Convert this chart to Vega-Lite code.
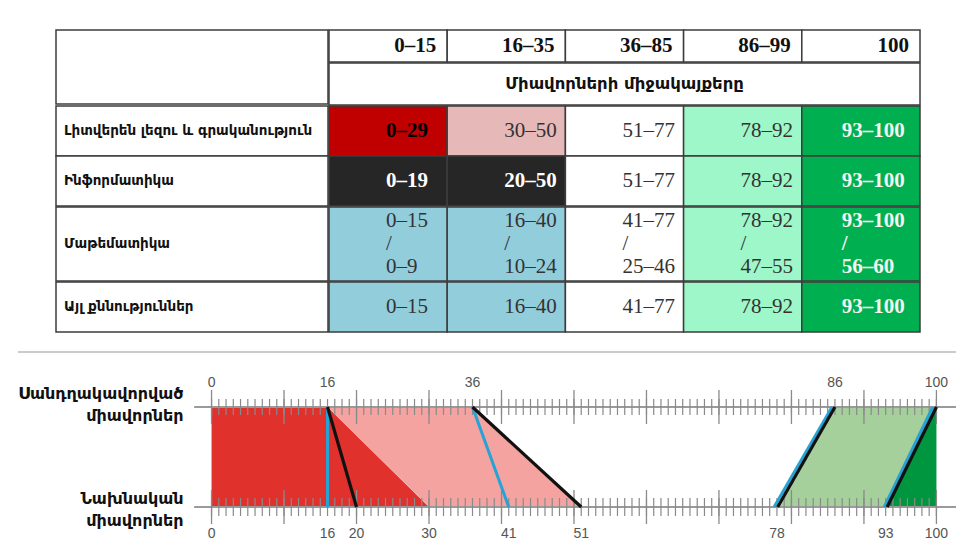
{
  "$schema": "https://vega.github.io/schema/vega-lite/v6.json",
  "padding": {"top": 29, "left": 17, "right": 0, "bottom": 0},
  "background": "white",
  "config": {"view": {"stroke": null}},
  "datasets": {
    "margin": [{"cell": "margin"}],
    "corner": [{"cell": "corner"}],
    "cols": [
      {"col": "c1", "range": "0–15"},
      {"col": "c2", "range": "16–35"},
      {"col": "c3", "range": "36–85"},
      {"col": "c4", "range": "86–99"},
      {"col": "c5", "range": "100"}
    ],
    "heading": [{"heading": "Միավորների միջակայքերը"}],
    "subjects": [
      {"row": "lit", "subject": "Լիտվերեն լեզու և գրականություն"},
      {"row": "inf", "subject": "Ինֆորմատիկա"},
      {"row": "math", "subject": "Մաթեմատիկա"},
      {"row": "oth", "subject": "Այլ քննություններ"}
    ],
    "cells": [
      {"row": "lit", "col": "c1", "zone": "red", "text": "0–29"},
      {"row": "lit", "col": "c2", "zone": "pink", "text": "30–50"},
      {"row": "lit", "col": "c3", "zone": "white", "text": "51–77"},
      {"row": "lit", "col": "c4", "zone": "mint", "text": "78–92"},
      {"row": "lit", "col": "c5", "zone": "green", "text": "93–100"},
      {"row": "inf", "col": "c1", "zone": "black", "text": "0–19"},
      {"row": "inf", "col": "c2", "zone": "black", "text": "20–50"},
      {"row": "inf", "col": "c3", "zone": "white", "text": "51–77"},
      {"row": "inf", "col": "c4", "zone": "mint", "text": "78–92"},
      {"row": "inf", "col": "c5", "zone": "green", "text": "93–100"},
      {"row": "math", "col": "c1", "zone": "blue", "text": ["0–15", "/", "0–9"]},
      {"row": "math", "col": "c2", "zone": "blue", "text": ["16–40", "/", "10–24"]},
      {"row": "math", "col": "c3", "zone": "white", "text": ["41–77", "/", "25–46"]},
      {"row": "math", "col": "c4", "zone": "mint", "text": ["78–92", "/", "47–55"]},
      {"row": "math", "col": "c5", "zone": "green", "text": ["93–100", "/", "56–60"]},
      {"row": "oth", "col": "c1", "zone": "blue", "text": "0–15"},
      {"row": "oth", "col": "c2", "zone": "blue", "text": "16–40"},
      {"row": "oth", "col": "c3", "zone": "white", "text": "41–77"},
      {"row": "oth", "col": "c4", "zone": "mint", "text": "78–92"},
      {"row": "oth", "col": "c5", "zone": "green", "text": "93–100"}
    ],
    "separator": [{"sep": "line"}],
    "axisLines": [{"level": 1}, {"level": 0}],
    "zones": [
      {"region": "dark red", "level": 1, "from": 0, "to": 16},
      {"region": "dark red", "level": 0, "from": 0, "to": 30},
      {"region": "light red", "level": 1, "from": 16, "to": 36},
      {"region": "light red", "level": 0, "from": 30, "to": 51},
      {"region": "light green", "level": 1, "from": 86, "to": 100},
      {"region": "light green", "level": 0, "from": 78, "to": 93},
      {"region": "dark green", "level": 1, "from": 100, "to": 100},
      {"region": "dark green", "level": 0, "from": 93, "to": 100}
    ],
    "segments": [
      {"seg": "b16", "kind": "blue", "level": 1, "x": 16},
      {"seg": "b16", "kind": "blue", "level": 0, "x": 16},
      {"seg": "b36", "kind": "blue", "level": 1, "x": 36},
      {"seg": "b36", "kind": "blue", "level": 0, "x": 41},
      {"seg": "b86", "kind": "blue", "level": 1, "x": 85.6},
      {"seg": "b86", "kind": "blue", "level": 0, "x": 77.6},
      {"seg": "b100", "kind": "blue", "level": 1, "x": 99.5},
      {"seg": "b100", "kind": "blue", "level": 0, "x": 92.8},
      {"seg": "k16", "kind": "black", "level": 1, "x": 16},
      {"seg": "k16", "kind": "black", "level": 0, "x": 20},
      {"seg": "k36", "kind": "black", "level": 1, "x": 36},
      {"seg": "k36", "kind": "black", "level": 0, "x": 51},
      {"seg": "k86", "kind": "black", "level": 1, "x": 86},
      {"seg": "k86", "kind": "black", "level": 0, "x": 78.1},
      {"seg": "k100", "kind": "black", "level": 1, "x": 100},
      {"seg": "k100", "kind": "black", "level": 0, "x": 93.2}
    ],
    "scaleTicks": [
      {"v": 0}, {"v": 1}, {"v": 2}, {"v": 3}, {"v": 4}, {"v": 5}, {"v": 6}, {"v": 7}, {"v": 8}, {"v": 9},
      {"v": 10}, {"v": 11}, {"v": 12}, {"v": 13}, {"v": 14}, {"v": 15}, {"v": 16}, {"v": 17}, {"v": 18}, {"v": 19},
      {"v": 20}, {"v": 21}, {"v": 22}, {"v": 23}, {"v": 24}, {"v": 25}, {"v": 26}, {"v": 27}, {"v": 28}, {"v": 29},
      {"v": 30}, {"v": 31}, {"v": 32}, {"v": 33}, {"v": 34}, {"v": 35}, {"v": 36}, {"v": 37}, {"v": 38}, {"v": 39},
      {"v": 40}, {"v": 41}, {"v": 42}, {"v": 43}, {"v": 44}, {"v": 45}, {"v": 46}, {"v": 47}, {"v": 48}, {"v": 49},
      {"v": 50}, {"v": 51}, {"v": 52}, {"v": 53}, {"v": 54}, {"v": 55}, {"v": 56}, {"v": 57}, {"v": 58}, {"v": 59},
      {"v": 60}, {"v": 61}, {"v": 62}, {"v": 63}, {"v": 64}, {"v": 65}, {"v": 66}, {"v": 67}, {"v": 68}, {"v": 69},
      {"v": 70}, {"v": 71}, {"v": 72}, {"v": 73}, {"v": 74}, {"v": 75}, {"v": 76}, {"v": 77}, {"v": 78}, {"v": 79},
      {"v": 80}, {"v": 81}, {"v": 82}, {"v": 83}, {"v": 84}, {"v": 85}, {"v": 86}, {"v": 87}, {"v": 88}, {"v": 89},
      {"v": 90}, {"v": 91}, {"v": 92}, {"v": 93}, {"v": 94}, {"v": 95}, {"v": 96}, {"v": 97}, {"v": 98}, {"v": 99},
      {"v": 100}
    ],
    "majorTicks": [
      {"v": 0}, {"v": 10}, {"v": 20}, {"v": 30}, {"v": 40}, {"v": 50}, {"v": 60}, {"v": 70}, {"v": 80}, {"v": 90}, {"v": 100}
    ],
    "scaledLabels": [{"v": 0}, {"v": 16}, {"v": 36}, {"v": 86}, {"v": 100}],
    "rawLabels": [{"v": 0}, {"v": 16}, {"v": 20}, {"v": 30}, {"v": 41}, {"v": 51}, {"v": 78}, {"v": 93}, {"v": 100}]
  },
  "spacing": 18,
  "vconcat": [
    {
      "spacing": 0,
      "hconcat": [
        {
          "width": 37, "height": 300,
          "data": {"name": "margin"},
          "mark": {"type": "rect", "fill": "white", "strokeWidth": 0},
          "encoding": {}
        },
        {
          "spacing": -1.5,
          "vconcat": [
            {
              "spacing": -1.5,
              "hconcat": [
                {
                  "width": 272, "height": 74,
                  "data": {"name": "corner"},
                  "mark": {"type": "rect", "fill": "white", "stroke": "#3c3c3c", "strokeWidth": 1.5},
                  "encoding": {}
                },
                {
                  "spacing": -1.5,
                  "vconcat": [
                    {
                      "width": 591, "height": 32,
                      "data": {"name": "cols"},
                      "layer": [
                        {
                          "mark": {"type": "rect", "fill": "white", "stroke": "#3c3c3c", "strokeWidth": 1.5},
                          "encoding": {
                            "x": {"field": "col", "type": "nominal", "sort": ["c1", "c2", "c3", "c4", "c5"], "axis": null, "scale": {"paddingInner": 0, "paddingOuter": 0}}
                          }
                        },
                        {
                          "mark": {"type": "text", "align": "right", "dx": -11, "font": "Liberation Serif", "fontWeight": "bold", "fontSize": 21, "color": "#111"},
                          "encoding": {
                            "x": {"field": "col", "type": "nominal", "sort": ["c1", "c2", "c3", "c4", "c5"], "axis": null, "bandPosition": 1},
                            "text": {"field": "range", "type": "nominal"}
                          }
                        }
                      ]
                    },
                    {
                      "width": 591, "height": 42,
                      "data": {"name": "heading"},
                      "layer": [
                        {"mark": {"type": "rect", "fill": "white", "stroke": "#3c3c3c", "strokeWidth": 1.5}, "encoding": {}},
                        {
                          "mark": {"type": "text", "font": "DejaVu Sans", "fontWeight": "bold", "fontSize": 16.5, "color": "#111"},
                          "encoding": {"text": {"field": "heading", "type": "nominal"}}
                        }
                      ]
                    }
                  ]
                }
              ]
            },
            {
              "spacing": -1.5,
              "hconcat": [
                {
                  "width": 272, "height": 100,
                  "data": {"name": "subjects"},
                  "transform": [{"filter": "datum.row == 'lit' || datum.row == 'inf'"}],
                  "encoding": {"y": {"field": "row", "type": "nominal", "sort": ["lit", "inf", "math", "oth"], "axis": null, "scale": {"paddingInner": 0, "paddingOuter": 0}}},
                  "layer": [
                    {"mark": {"type": "rect", "fill": "white", "stroke": "#3c3c3c", "strokeWidth": 1.5}},
                    {"mark": {"type": "text", "align": "left", "dx": -128, "font": "DejaVu Sans", "fontWeight": "bold", "fontSize": 13.5, "color": "#111"}, "encoding": {"text": {"field": "subject", "type": "nominal"}}}
                  ]
                },
                {
                  "width": 591, "height": 100,
                  "data": {"name": "cells"},
                  "transform": [{"filter": "datum.row == 'lit' || datum.row == 'inf'"}],
                  "encoding": {
                    "x": {"field": "col", "type": "nominal", "sort": ["c1", "c2", "c3", "c4", "c5"], "axis": null, "scale": {"paddingInner": 0, "paddingOuter": 0}},
                    "y": {"field": "row", "type": "nominal", "sort": ["lit", "inf", "math", "oth"], "axis": null, "scale": {"paddingInner": 0, "paddingOuter": 0}}
                  },
                  "layer": [
                    {"mark": {"type": "rect", "stroke": "#3c3c3c", "strokeWidth": 1.5}, "encoding": {"fill": {"field": "zone", "type": "nominal", "legend": null, "scale": {"domain": ["red", "pink", "black", "blue", "white", "mint", "green"], "range": ["#c00000", "#e6b8b7", "#262626", "#92cddc", "#ffffff", "#9ef7c9", "#00b050"]}}}},
                    {"transform": [{"filter": "datum.zone == 'pink' || datum.zone == 'white' || datum.zone == 'mint' || datum.zone == 'blue'"}], "mark": {"type": "text", "align": "left", "dx": 57, "font": "Liberation Serif", "fontSize": 21, "lineHeight": 23, "color": "#333"}, "encoding": {"x": {"field": "col", "type": "nominal", "sort": ["c1", "c2", "c3", "c4", "c5"], "axis": null, "bandPosition": 0}, "text": {"field": "text", "type": "nominal"}}},
                    {"transform": [{"filter": "datum.zone == 'red'"}], "mark": {"type": "text", "align": "left", "dx": 57, "font": "Liberation Serif", "fontWeight": "bold", "fontSize": 21, "lineHeight": 23, "color": "#000"}, "encoding": {"x": {"field": "col", "type": "nominal", "sort": ["c1", "c2", "c3", "c4", "c5"], "axis": null, "bandPosition": 0}, "text": {"field": "text", "type": "nominal"}}},
                    {"transform": [{"filter": "datum.zone == 'black'"}], "mark": {"type": "text", "align": "left", "dx": 57, "font": "Liberation Serif", "fontWeight": "bold", "fontSize": 21, "lineHeight": 23, "color": "#ffffff"}, "encoding": {"x": {"field": "col", "type": "nominal", "sort": ["c1", "c2", "c3", "c4", "c5"], "axis": null, "bandPosition": 0}, "text": {"field": "text", "type": "nominal"}}},
                    {"transform": [{"filter": "datum.zone == 'green'"}], "mark": {"type": "text", "align": "left", "dx": 40, "font": "Liberation Serif", "fontWeight": "bold", "fontSize": 21, "lineHeight": 23, "color": "#f4f4f4"}, "encoding": {"x": {"field": "col", "type": "nominal", "sort": ["c1", "c2", "c3", "c4", "c5"], "axis": null, "bandPosition": 0}, "text": {"field": "text", "type": "nominal"}}}
                  ]
                }
              ]
            },
            {
              "spacing": -1.5,
              "hconcat": [
                {
                  "width": 272, "height": 74,
                  "data": {"name": "subjects"},
                  "transform": [{"filter": "datum.row == 'math'"}],
                  "encoding": {"y": {"field": "row", "type": "nominal", "axis": null, "scale": {"paddingInner": 0, "paddingOuter": 0}}},
                  "layer": [
                    {"mark": {"type": "rect", "fill": "white", "stroke": "#3c3c3c", "strokeWidth": 1.5}},
                    {"mark": {"type": "text", "align": "left", "dx": -128, "font": "DejaVu Sans", "fontWeight": "bold", "fontSize": 13.5, "color": "#111"}, "encoding": {"text": {"field": "subject", "type": "nominal"}}}
                  ]
                },
                {
                  "width": 591, "height": 74,
                  "data": {"name": "cells"},
                  "transform": [{"filter": "datum.row == 'math'"}],
                  "encoding": {
                    "x": {"field": "col", "type": "nominal", "sort": ["c1", "c2", "c3", "c4", "c5"], "axis": null, "scale": {"paddingInner": 0, "paddingOuter": 0}},
                    "y": {"field": "row", "type": "nominal", "axis": null, "scale": {"paddingInner": 0, "paddingOuter": 0}}
                  },
                  "layer": [
                    {"mark": {"type": "rect", "stroke": "#3c3c3c", "strokeWidth": 1.5}, "encoding": {"fill": {"field": "zone", "type": "nominal", "legend": null, "scale": {"domain": ["red", "pink", "black", "blue", "white", "mint", "green"], "range": ["#c00000", "#e6b8b7", "#262626", "#92cddc", "#ffffff", "#9ef7c9", "#00b050"]}}}},
                    {"transform": [{"filter": "datum.zone == 'pink' || datum.zone == 'white' || datum.zone == 'mint' || datum.zone == 'blue'"}], "mark": {"type": "text", "align": "left", "dx": 57, "dy": -23, "font": "Liberation Serif", "fontSize": 21, "lineHeight": 23, "color": "#333"}, "encoding": {"x": {"field": "col", "type": "nominal", "sort": ["c1", "c2", "c3", "c4", "c5"], "axis": null, "bandPosition": 0}, "text": {"field": "text", "type": "nominal"}}},
                    {"transform": [{"filter": "datum.zone == 'green'"}], "mark": {"type": "text", "align": "left", "dx": 40, "dy": -23, "font": "Liberation Serif", "fontWeight": "bold", "fontSize": 21, "lineHeight": 23, "color": "#f4f4f4"}, "encoding": {"x": {"field": "col", "type": "nominal", "sort": ["c1", "c2", "c3", "c4", "c5"], "axis": null, "bandPosition": 0}, "text": {"field": "text", "type": "nominal"}}}
                  ]
                }
              ]
            },
            {
              "spacing": -1.5,
              "hconcat": [
                {
                  "width": 272, "height": 50,
                  "data": {"name": "subjects"},
                  "transform": [{"filter": "datum.row == 'oth'"}],
                  "encoding": {"y": {"field": "row", "type": "nominal", "axis": null, "scale": {"paddingInner": 0, "paddingOuter": 0}}},
                  "layer": [
                    {"mark": {"type": "rect", "fill": "white", "stroke": "#3c3c3c", "strokeWidth": 1.5}},
                    {"mark": {"type": "text", "align": "left", "dx": -128, "font": "DejaVu Sans", "fontWeight": "bold", "fontSize": 13.5, "color": "#111"}, "encoding": {"text": {"field": "subject", "type": "nominal"}}}
                  ]
                },
                {
                  "width": 591, "height": 50,
                  "data": {"name": "cells"},
                  "transform": [{"filter": "datum.row == 'oth'"}],
                  "encoding": {
                    "x": {"field": "col", "type": "nominal", "sort": ["c1", "c2", "c3", "c4", "c5"], "axis": null, "scale": {"paddingInner": 0, "paddingOuter": 0}},
                    "y": {"field": "row", "type": "nominal", "axis": null, "scale": {"paddingInner": 0, "paddingOuter": 0}}
                  },
                  "layer": [
                    {"mark": {"type": "rect", "stroke": "#3c3c3c", "strokeWidth": 1.5}, "encoding": {"fill": {"field": "zone", "type": "nominal", "legend": null, "scale": {"domain": ["red", "pink", "black", "blue", "white", "mint", "green"], "range": ["#c00000", "#e6b8b7", "#262626", "#92cddc", "#ffffff", "#9ef7c9", "#00b050"]}}}},
                    {"transform": [{"filter": "datum.zone == 'pink' || datum.zone == 'white' || datum.zone == 'mint' || datum.zone == 'blue'"}], "mark": {"type": "text", "align": "left", "dx": 57, "font": "Liberation Serif", "fontSize": 21, "lineHeight": 23, "color": "#333"}, "encoding": {"x": {"field": "col", "type": "nominal", "sort": ["c1", "c2", "c3", "c4", "c5"], "axis": null, "bandPosition": 0}, "text": {"field": "text", "type": "nominal"}}},
                    {"transform": [{"filter": "datum.zone == 'green'"}], "mark": {"type": "text", "align": "left", "dx": 40, "font": "Liberation Serif", "fontWeight": "bold", "fontSize": 21, "lineHeight": 23, "color": "#f4f4f4"}, "encoding": {"x": {"field": "col", "type": "nominal", "sort": ["c1", "c2", "c3", "c4", "c5"], "axis": null, "bandPosition": 0}, "text": {"field": "text", "type": "nominal"}}}
                  ]
                }
              ]
            }
          ]
        }
      ]
    },
    {
      "width": 938,
      "height": 195,
      "layer": [
        {
          "data": {"name": "separator"},
          "mark": {"type": "rule", "color": "#b8b8b8", "strokeWidth": 1.5},
          "encoding": {
            "y": {"datum": 1.55, "type": "quantitative", "scale": {"domain": [-0.4, 1.55], "nice": false, "zero": false}}
          }
        },
        {
          "data": {"name": "zones"},
          "mark": {"type": "area", "orient": "horizontal", "interpolate": "linear", "opacity": 1},
          "encoding": {
            "y": {"field": "level", "type": "quantitative"},
            "x": {"field": "from", "type": "quantitative", "stack": null, "axis": null, "scale": {"domain": [-26.7, 102.7], "nice": false, "zero": false}},
            "x2": {"field": "to"},
            "color": {"field": "region", "type": "nominal", "legend": null, "scale": {"domain": ["dark red", "light red", "light green", "dark green"], "range": ["#e1312d", "#f5a3a1", "#a5d09c", "#00953f"]}}
          }
        },
        {
          "data": {"name": "axisLines"},
          "mark": {"type": "rule", "color": "#9a9a9a", "strokeWidth": 2},
          "encoding": {
            "x": {"datum": -2.4, "type": "quantitative", "axis": null},
            "x2": {"datum": 102.7},
            "y": {"field": "level", "type": "quantitative", "axis": {"title": null, "values": [0, 1], "offset": -176, "labelExpr": "datum.value == 1 ? ['Սանդղակավորված', 'միավորներ'] : ['Նախնական', 'միավորներ']", "labelFont": "DejaVu Sans", "labelFontWeight": "bold", "labelFontSize": 16, "labelColor": "#111", "labelLineHeight": 22, "labelPadding": 11, "labelBaseline": "middle", "labelAlign": "right", "labelOffset": {"condition": {"test": "datum.value == 1", "value": -14}, "value": -9}, "ticks": false, "domain": false, "grid": false, "labelOverlap": false}}
          }
        },
        {
          "data": {"name": "scaleTicks"},
          "mark": {"type": "tick", "orient": "vertical", "size": 16, "thickness": 1.2, "color": "#8a8a8a", "opacity": 1},
          "encoding": {"x": {"field": "v", "type": "quantitative", "axis": null}, "y": {"datum": 1}}
        },
        {
          "data": {"name": "scaleTicks"},
          "mark": {"type": "tick", "orient": "vertical", "size": 18, "thickness": 1.2, "color": "#8a8a8a", "opacity": 1},
          "encoding": {"x": {"field": "v", "type": "quantitative", "axis": null}, "y": {"datum": 0}}
        },
        {
          "data": {"name": "majorTicks"},
          "mark": {"type": "tick", "orient": "vertical", "size": 34, "thickness": 1.3, "color": "#8a8a8a", "opacity": 1},
          "encoding": {"x": {"field": "v", "type": "quantitative", "axis": null}, "y": {"datum": 1}}
        },
        {
          "data": {"name": "majorTicks"},
          "mark": {"type": "tick", "orient": "vertical", "size": 34, "thickness": 1.3, "color": "#8a8a8a", "opacity": 1},
          "encoding": {"x": {"field": "v", "type": "quantitative", "axis": null}, "y": {"datum": 0}}
        },
        {
          "data": {"name": "segments"},
          "transform": [{"filter": "datum.kind == 'blue'"}],
          "mark": {"type": "line", "color": "#26a3d4", "strokeWidth": 3},
          "encoding": {"x": {"field": "x", "type": "quantitative", "axis": null}, "y": {"field": "level", "type": "quantitative"}, "detail": {"field": "seg", "type": "nominal"}}
        },
        {
          "data": {"name": "segments"},
          "transform": [{"filter": "datum.kind == 'black'"}],
          "mark": {"type": "line", "color": "#111111", "strokeWidth": 3.2},
          "encoding": {"x": {"field": "x", "type": "quantitative", "axis": null}, "y": {"field": "level", "type": "quantitative"}, "detail": {"field": "seg", "type": "nominal"}}
        },
        {
          "data": {"name": "scaledLabels"},
          "mark": {"type": "text", "font": "Liberation Sans", "fontSize": 14, "color": "#555"},
          "encoding": {"x": {"field": "v", "type": "quantitative", "axis": null}, "y": {"datum": 1.245}, "text": {"field": "v", "type": "quantitative"}}
        },
        {
          "data": {"name": "rawLabels"},
          "mark": {"type": "text", "font": "Liberation Sans", "fontSize": 14, "color": "#555"},
          "encoding": {"x": {"field": "v", "type": "quantitative", "axis": null}, "y": {"datum": -0.265}, "text": {"field": "v", "type": "quantitative"}}
        }
      ]
    }
  ]
}
